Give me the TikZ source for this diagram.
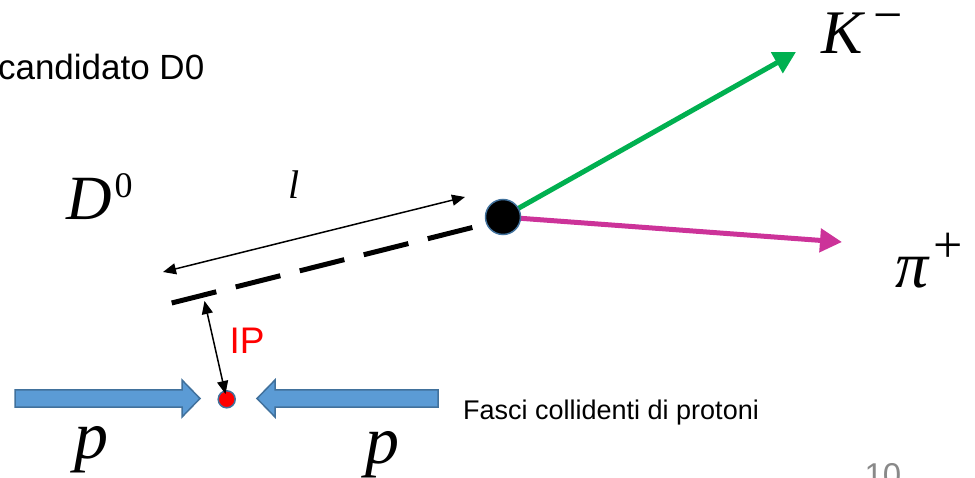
\RequirePackage{fix-cm}
\documentclass[tikz,border=0pt]{standalone}
\usepackage{fontspec}
\newfontfamily\arialf{Liberation Sans}
\newfontfamily\timesf{Liberation Serif}
\usetikzlibrary{arrows.meta}
\definecolor{kgreen}{HTML}{00B050}
\definecolor{pimag}{HTML}{CC3399}
\definecolor{beamfill}{HTML}{5B9BD5}
\definecolor{beamedge}{HTML}{41719C}
\definecolor{slidegray}{HTML}{898989}
\newcommand{\bigit}[2]{{\timesf\itshape\fontsize{#1}{#1}\selectfont #2}}
\newcommand{\supup}[3]{\raisebox{#2pt}{\timesf\fontsize{#1}{#1}\selectfont #3}}
\tikzset{
  track/.style={line width=5pt,-{Triangle[length=22pt,width=23pt]}},
  thinarrow/.style={line width=1.5pt,{Triangle[length=13pt,width=11pt]}-{Triangle[length=13pt,width=11pt]}},
  dashline/.style={line width=5pt,dash pattern=on 46pt off 20pt},
  beam/.style={fill=beamfill,draw=beamedge,line width=1.5pt},
  vertexdot/.style={circle,fill=black,draw=beamedge,line width=1.5pt,minimum size=35pt,inner sep=0pt},
  ipdot/.style={circle,fill=red,draw=beamedge,line width=1.5pt,minimum size=17pt,inner sep=0pt},
  sanstext/.style={inner sep=0pt,font={\arialf\fontsize{#1}{#1}\selectfont}},
  symlabel/.style={inner sep=0pt}
}
\begin{document}
\begin{tikzpicture}[x=1pt,y=-1pt]
\useasboundingbox (0,0) rectangle (975,478);
\clip (0,0) rectangle (975,478);
% coordinates
\coordinate (vc) at (503,217);
\coordinate (ktip) at (796,52);
\coordinate (pitip) at (842,242);
\coordinate (dstart) at (171.7,303);
\coordinate (dend) at (474.3,227);
\coordinate (lA) at (163,272);
\coordinate (lB) at (465,197);
\coordinate (ipTop) at (204.5,301);
\coordinate (ipBot) at (225.5,394);
% tracks
\draw[track,draw=kgreen,fill=kgreen] (vc) -- (ktip);
\draw[track,draw=pimag,fill=pimag] (vc) -- (pitip);
\node[vertexdot] (v) at (vc) {};
% D0 flight line
\draw[dashline] (dstart) -- (dend);
\draw[thinarrow] (lA) -- (lB);
% beams
\draw[beam] (15,390) -- (182,390) -- (182,380) -- (200,398.5) -- (182,417) -- (182,407) -- (15,407) -- cycle;
\draw[beam] (438,390) -- (275,390) -- (275,380) -- (257,398.5) -- (275,417) -- (275,407) -- (438,407) -- cycle;
\node[ipdot] (rd) at (226.7,399.3) {};
\draw[thinarrow] (ipTop) -- (ipBot);
% texts
\node[sanstext=35,anchor=base east] (cand) at (204.5,80) {candidato D0};
\node[sanstext=37,anchor=base west,text=red] (ip) at (229.5,354) {IP};
\node[sanstext=27,anchor=base west] (fasci) at (463,419.3) {Fasci collidenti di protoni};
\node[sanstext=33,anchor=base west,text=slidegray] (num) at (864.4,486.6) {10};
\node[symlabel,anchor=base west] (kl) at (821,54) {\bigit{62}{K}\hspace{11pt}\supup{52}{21}{−}};
\node[symlabel,anchor=base west] (pil) at (895,288) {\bigit{66}{π}\hspace{5pt}\supup{52}{25}{+}};
\node[symlabel,anchor=base west] (dl) at (66,220) {\bigit{63}{D}\hspace{3pt}\supup{36}{22}{0}};
\node[symlabel,anchor=base west] (ll) at (288,199) {\bigit{40}{l}};
\node[symlabel,anchor=center] (p1) at (91,450) {\bigit{68}{p}};
\node[symlabel,anchor=center] (p2) at (382.5,455) {\bigit{68}{p}};
\end{tikzpicture}
\end{document}
